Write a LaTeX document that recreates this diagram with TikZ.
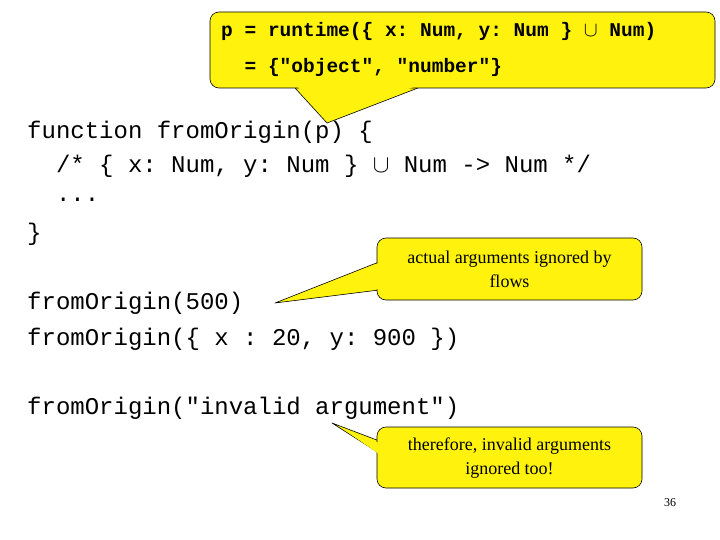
\documentclass[tikz,border=0pt]{standalone}
\usepackage{fontspec}
\setmainfont{Liberation Serif}
\setmonofont{Liberation Mono}
\begin{document}
\begin{tikzpicture}[x=1pt,y=-1pt,
  code/.style={anchor=west,inner sep=0pt,font=\ttfamily\fontsize{24}{24}\selectfont},
  tcode/.style={anchor=west,inner sep=0pt,font=\ttfamily\bfseries\fontsize{19.5}{20}\selectfont},
  note/.style={align=center,inner sep=0pt,font=\fontsize{18}{24}\selectfont},
  bubble/.style={fill=yellow!95!white,draw=black,line width=0.6pt,rounded corners=9pt}]
\useasboundingbox[fill=white] (0,0) rectangle (720,540);
% top callout
\coordinate (t1) at (295,88); \coordinate (t2) at (418,88); \coordinate (tt) at (327,123);
\fill[yellow!95!white,draw=black,line width=0.6pt,line join=round] (t1) -- (tt) -- (t2);
\draw[bubble] (210,12) rectangle (715,88);
\fill[yellow!95!white] (297,86) -- (327,120) -- (415,86.5) -- cycle;
\node[tcode] (p1) at (221,31) {p = runtime(\{ x: Num, y: Num \} $\cup$ Num)};
\node[tcode] (p2) at (221,67) {\ \ = \{"object", "number"\}};
% code
\node[code] (c1) at (27,132) {function fromOrigin(p) \{};
\node[code] (c2) at (27,166) {\ \ /* \{ x: Num, y: Num \} $\cup$ Num -> Num */};
\node[code] (c3) at (27,200) {\ \ ...};
\node[code] (c4) at (27,234) {\}};
\node[code] (c5) at (27,303) {fromOrigin(500)};
\node[code] (c6) at (27,339) {fromOrigin(\{ x : 20, y: 900 \})};
\node[code] (c7) at (27,408) {fromOrigin("invalid argument")};
% callout 2
\fill[yellow!95!white,draw=black,line width=0.6pt,line join=round] (379,262) -- (275,303) -- (379,290);
\draw[bubble] (377,238) rectangle (642,300);
\fill[yellow!95!white] (379,263) -- (285,300) -- (379,289) -- cycle;
\node[note] (n1) at (509.5,269) {actual arguments ignored by\\flows};
% callout 3
\fill[yellow!95!white,draw=black,line width=0.6pt,line join=round] (382,442) -- (332,423) -- (382,455);
\draw[bubble] (377,427) rectangle (642,488);
\fill[yellow!95!white] (379,443) -- (340,427) -- (379,454) -- cycle;
\node[note] (n2) at (509.5,458) {therefore, invalid arguments\\ignored too!};
\node[font=\fontsize{12}{14}\selectfont,inner sep=0pt] (pg) at (670,503) {36};
\end{tikzpicture}
\end{document}
